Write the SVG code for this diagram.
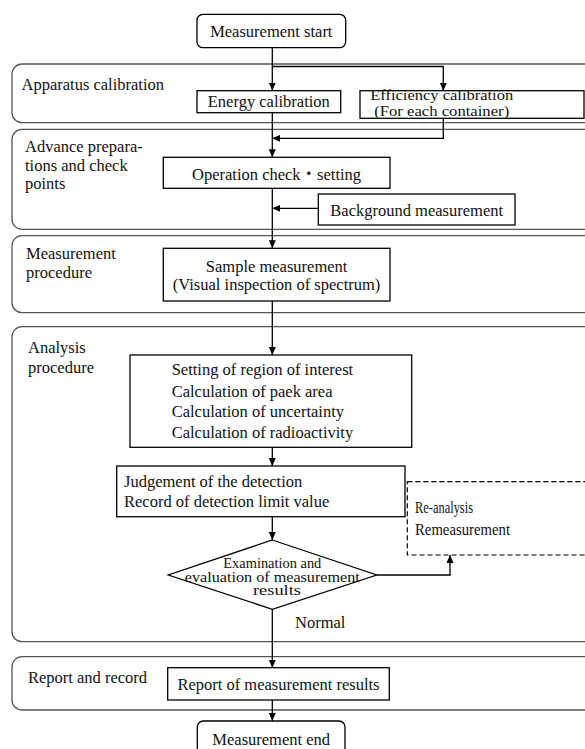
<svg xmlns="http://www.w3.org/2000/svg" width="585" height="749" viewBox="0 0 585 749">
<defs>
<marker id="ah" markerUnits="userSpaceOnUse" markerWidth="8" markerHeight="8" refX="8" refY="3.5" orient="auto">
<path d="M0,0 L8,3.5 L0,7 z" fill="#000"/>
</marker>
<style>
text{font-family:"Liberation Serif","Times New Roman","Noto Sans CJK JP",serif;font-size:16.5px;fill:#111}
.band{fill:none;stroke:#555;stroke-width:1.3}
.box{fill:#fff;stroke:#000;stroke-width:1.3}
.dash{fill:#fff;stroke:#000;stroke-width:1.2;stroke-dasharray:5,3}
.c{text-anchor:middle}
.ln{fill:none;stroke:#000;stroke-width:1.3}
.arr{fill:none;stroke:#000;stroke-width:1.3;marker-end:url(#ah)}
.sm{font-size:14px}
</style>
</defs>
<rect width="585" height="749" fill="#fff"/>
<g id="bands">
<g id="band-apparatus"><rect class="band" x="12" y="64" width="620" height="58.7" rx="10"/><text x="21.5" y="90">Apparatus calibration</text></g>
<g id="band-advance"><rect class="band" x="12" y="129.3" width="620" height="100" rx="10"/><text x="25" y="152">Advance prepara-</text><text x="25" y="171">tions and check</text><text x="25" y="189">points</text></g>
<g id="band-measurement"><rect class="band" x="12" y="235.7" width="620" height="77" rx="10"/><text x="26" y="259">Measurement</text><text x="26" y="277.5">procedure</text></g>
<g id="band-analysis"><rect class="band" x="12" y="326.7" width="620" height="315" rx="10"/><text x="28" y="353">Analysis</text><text x="28" y="373">procedure</text></g>
<g id="band-report"><rect class="band" x="12" y="656.7" width="620" height="53.3" rx="10"/><text x="28" y="682.5">Report and record</text></g>
</g>
<g id="connectors">
<line class="arr" x1="272.3" y1="47.7" x2="272.3" y2="90.7"/>
<polyline class="arr" points="272.3,66.5 443.3,66.5 443.3,90.7"/>
<line class="arr" x1="272.3" y1="112.7" x2="272.3" y2="157.3"/>
<polyline class="arr" points="443.3,118.3 443.3,138.3 272.3,138.3"/>
<line class="arr" x1="272.3" y1="188.3" x2="272.3" y2="248.3"/>
<line class="arr" x1="318.3" y1="208.3" x2="272.3" y2="208.3"/>
<line class="arr" x1="272.3" y1="301" x2="272.3" y2="355"/>
<line class="arr" x1="272.3" y1="447.3" x2="272.3" y2="466"/>
<line class="arr" x1="272.3" y1="516.7" x2="272.3" y2="540"/>
<polyline class="arr" points="376.7,575 450,575 450,555"/>
<line class="arr" x1="272.3" y1="609.3" x2="272.3" y2="667.7"/>
<line class="arr" x1="272.3" y1="700" x2="272.3" y2="721"/>
<text x="295" y="627.5">Normal</text>
</g>
<g id="start"><rect class="box" x="197" y="14.3" width="148.7" height="33.4" rx="6"/><text class="c" x="271.3" y="36.5">Measurement start</text></g>
<g id="energy"><rect class="box" x="197" y="90.7" width="143.7" height="22"/><text class="c" x="268.8" y="107">Energy calibration</text></g>
<g id="efficiency"><rect class="box" x="360" y="90.7" width="224" height="27.6"/><text class="c sm" x="441.7" y="100" textLength="143" lengthAdjust="spacingAndGlyphs">Efficiency calibration</text><text class="c sm" x="441.7" y="115.5" textLength="135" lengthAdjust="spacingAndGlyphs">(For each container)</text></g>
<g id="operation"><rect class="box" x="163.3" y="157.3" width="226.7" height="31"/><text class="c" x="276.6" y="179.5">Operation check・setting</text></g>
<g id="background"><rect class="box" x="318.3" y="194" width="196.7" height="31"/><text class="c" x="416.7" y="216">Background measurement</text></g>
<g id="sample"><rect class="box" x="163.3" y="248.3" width="226.7" height="52.7"/><text class="c" x="276.6" y="271.5">Sample measurement</text><text class="c" x="276.6" y="290">(Visual inspection of spectrum)</text></g>
<g id="analysis"><rect class="box" x="130" y="355" width="281.7" height="92.3"/><text x="171.7" y="375">Setting of region of interest</text><text x="171.7" y="396.5">Calculation of paek area</text><text x="171.7" y="417">Calculation of uncertainty</text><text x="171.7" y="438">Calculation of radioactivity</text></g>
<g id="judgement"><rect class="box" x="116.7" y="466" width="288.3" height="50.7"/><text x="124" y="487">Judgement of the detection</text><text x="124" y="507">Record of detection limit value</text></g>
<g id="reanalysis"><rect class="dash" x="407.3" y="481.7" width="200" height="73.3"/><text x="415" y="512.5" textLength="58" lengthAdjust="spacingAndGlyphs">Re-analysis</text><text x="415" y="535" textLength="95" lengthAdjust="spacingAndGlyphs">Remeasurement</text></g>
<g id="decision"><polygon class="box" points="272.3,540 376.7,575 272.3,609.3 168.3,575"/><text class="c sm" x="272.3" y="568" textLength="98" lengthAdjust="spacingAndGlyphs">Examination and</text><text class="c sm" x="272.3" y="581.5" textLength="175" lengthAdjust="spacingAndGlyphs">evaluation of measurement</text><text class="c sm" x="277" y="595" textLength="48" lengthAdjust="spacingAndGlyphs">results</text></g>
<g id="report"><rect class="box" x="167.7" y="667.7" width="221.6" height="32.3"/><text class="c" x="278.5" y="690">Report of measurement results</text></g>
<g id="end"><rect class="box" x="197.3" y="721" width="147.7" height="40" rx="6"/><text class="c" x="271.2" y="745">Measurement end</text></g>
</svg>
